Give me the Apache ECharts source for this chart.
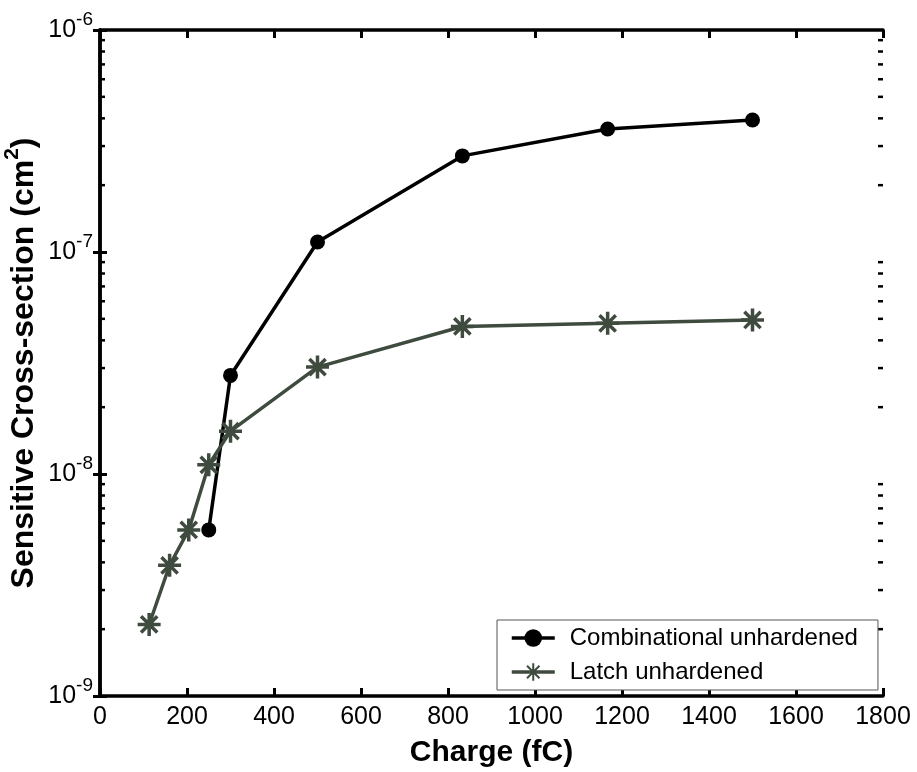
<!DOCTYPE html>
<html>
<head>
<meta charset="utf-8">
<script src="https://cdn.jsdelivr.net/npm/echarts@6/dist/echarts.min.js"></script>
<style>
  html, body { margin: 0; padding: 0; background: #fff; }
  #main { width: 917px; height: 772px; }
</style>
</head>
<body>
<div id="main"></div>
<script>
// 数据：横轴是电荷 (fC)，纵轴是敏感截面 (cm^2)
var comboX = [250, 300, 500, 833, 1167, 1500];
var comboY = [5.6e-9, 2.78e-8, 1.11e-7, 2.71e-7, 3.58e-7, 3.93e-7];

var latchX = [113, 160, 204, 250, 300, 500, 833, 1167, 1500];
var latchY = [2.1e-9, 3.88e-9, 5.6e-9, 1.1e-8, 1.56e-8, 3.03e-8, 4.62e-8, 4.77e-8, 4.94e-8];

// 对数轴的次刻度（2..9 × 10^n）
var yMinorTicks = [
    2e-9, 3e-9, 4e-9, 5e-9, 6e-9, 7e-9, 8e-9, 9e-9,
    2e-8, 3e-8, 4e-8, 5e-8, 6e-8, 7e-8, 8e-8, 9e-8,
    2e-7, 3e-7, 4e-7, 5e-7, 6e-7, 7e-7, 8e-7, 9e-7
];

var seriesNames = ['Combinational unhardened', 'Latch unhardened'];
var font = "'Liberation Sans', Arial, sans-serif";
var latchColor = '#3f4b3f';
var asterisk = 'path://M0,-10L0,10M-10,0L10,0M-7.07,-7.07L7.07,7.07M-7.07,7.07L7.07,-7.07';

function pairs(xs, ys) {
    return xs.map(function (x, i) { return [x, ys[i]]; });
}

var myChart = echarts.init(document.getElementById('main'));

var tickStyle = { show: true, inside: true, length: 8, lineStyle: { color: '#000', width: 3 } };
var lineStyle = { show: true, lineStyle: { color: '#000', width: 3.5 } };

var option = {
    backgroundColor: '#fff',
    animation: false,
    grid: { left: 100, right: 34, top: 30, bottom: 76, containLabel: false, outerBoundsMode: 'none' },
    legend: {
        data: seriesNames,
        orient: 'vertical',
        left: 497,
        top: 620,
        backgroundColor: '#fff',
        borderColor: '#555',
        borderWidth: 1,
        borderRadius: 0,
        padding: [6, 20, 6, 13],
        itemWidth: 43,
        itemHeight: 22,
        itemGap: 10,
        lineStyle: { width: 3.5 },
        textStyle: { fontSize: 24, fontFamily: font, color: '#000', padding: [0, 0, 0, 10] }
    },
    xAxis: [{
        type: 'value',
        min: 0,
        max: 1800,
        interval: 200,
        name: 'Charge (fC)',
        nameLocation: 'middle',
        nameGap: 42,
        nameMoveOverlap: false,
        nameTextStyle: { fontSize: 30, fontWeight: 'bold', fontFamily: font, color: '#000' },
        axisLine: lineStyle,
        axisTick: tickStyle,
        axisLabel: {
            fontSize: 25, fontFamily: font, color: '#000', margin: 9,
            formatter: function (v) { return String(v); }
        },
        splitLine: { show: false }
    }, {
        type: 'value',
        position: 'top',
        min: 0,
        max: 1800,
        interval: 200,
        axisLine: lineStyle,
        axisTick: tickStyle,
        axisLabel: { show: false },
        splitLine: { show: false }
    }],
    yAxis: [{
        type: 'log',
        logBase: 10,
        min: 1e-9,
        max: 1e-6,
        name: 'Sensitive Cross-section (cm{sup|2})',
        nameLocation: 'middle',
        nameGap: 54,
        nameMoveOverlap: false,
        nameTextStyle: {
            fontSize: 32, fontWeight: 'bold', fontFamily: font, color: '#000', lineHeight: 44,
            rich: {
                sup: { fontSize: 21, fontWeight: 'bold', fontFamily: font, color: '#000', lineHeight: 20, verticalAlign: 'top' }
            }
        },
        axisLine: lineStyle,
        axisTick: { show: true, inside: true, length: 7, lineStyle: { color: '#000', width: 3 } },
        axisLabel: {
            margin: 7,
            formatter: function (v) {
                return '10{sup|' + Math.round(Math.log10(v)) + '}';
            },
            fontSize: 25, fontFamily: font, color: '#000', lineHeight: 40,
            rich: {
                sup: { fontSize: 19, fontFamily: font, color: '#000', lineHeight: 19, verticalAlign: 'top' }
            }
        },
        splitLine: { show: false }
    }, {
        type: 'log',
        logBase: 10,
        min: 1e-9,
        max: 1e-6,
        position: 'right',
        axisLine: lineStyle,
        axisTick: { show: true, inside: true, length: 7, lineStyle: { color: '#000', width: 3 } },
        axisLabel: { show: false },
        splitLine: { show: false }
    }],
    series: [{
        name: seriesNames[0],
        type: 'line',
        data: pairs(comboX, comboY),
        symbol: 'circle',
        symbolSize: 15,
        lineStyle: { color: '#000', width: 3.5 },
        itemStyle: { color: '#000' },
        z: 3
    }, {
        name: seriesNames[1],
        type: 'line',
        data: pairs(latchX, latchY),
        symbol: asterisk,
        symbolSize: 23,
        lineStyle: { color: latchColor, width: 3.5 },
        itemStyle: { color: latchColor, borderColor: latchColor, borderWidth: 3.5 },
        z: 4
    }, {
        // 左右两侧的次刻度
        type: 'custom',
        silent: true,
        data: yMinorTicks.map(function (v) { return [0, v]; }),
        encode: { x: 0, y: 1 },
        renderItem: function (params, api) {
            var v = api.value(1);
            var l = api.coord([0, v]);
            var r = api.coord([1800, v]);
            return {
                type: 'group',
                children: [
                    { type: 'line', shape: { x1: l[0], y1: l[1], x2: l[0] + 5, y2: l[1] }, style: { stroke: '#000', lineWidth: 2.5 } },
                    { type: 'line', shape: { x1: r[0], y1: r[1], x2: r[0] - 5, y2: r[1] }, style: { stroke: '#000', lineWidth: 2.5 } }
                ]
            };
        },
        z: 1
    }]
};

myChart.setOption(option);
</script>
</body>
</html>
